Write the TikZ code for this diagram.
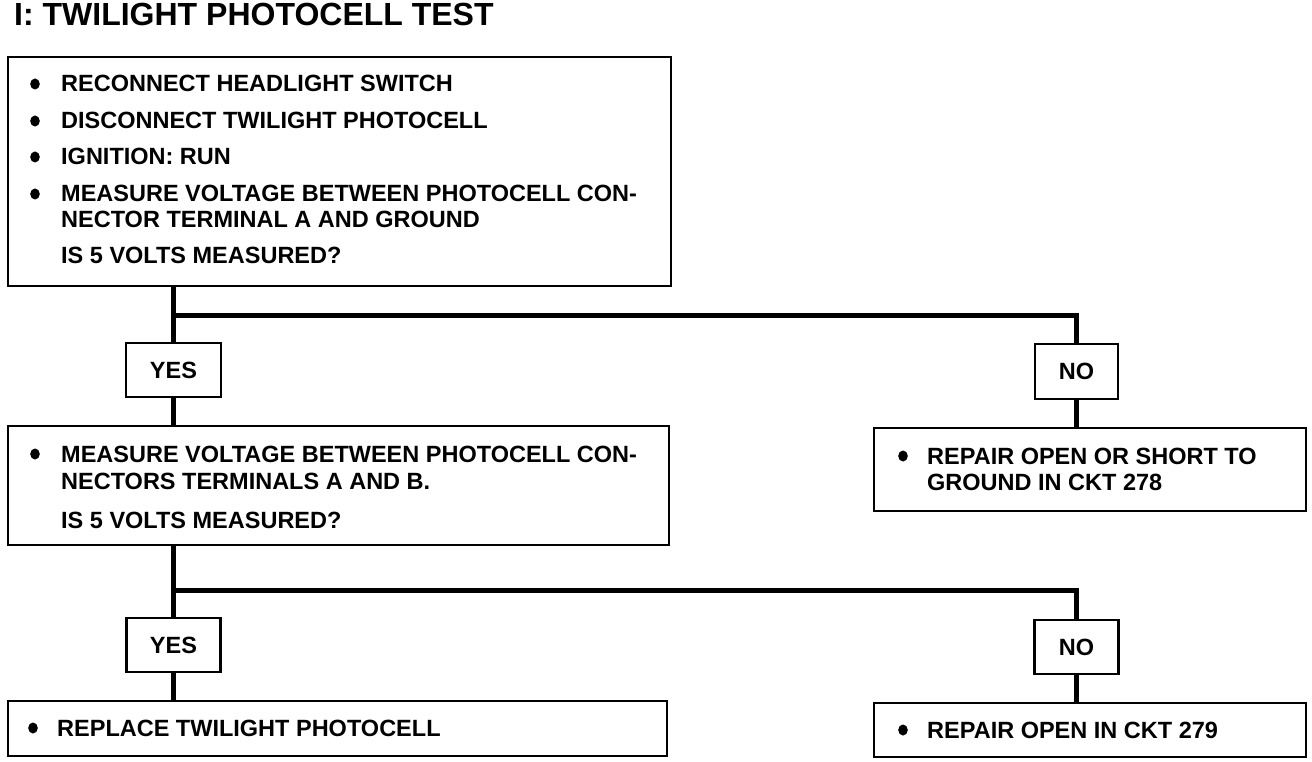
\documentclass[tikz,border=0pt]{standalone}
\usepackage{fontspec}
\setmainfont{Liberation Sans}
\begin{document}
\begin{tikzpicture}[x=1pt,y=-1pt,
  box/.style={draw, line width=2.8pt, inner sep=0pt, outer sep=0pt, rectangle},
  lbl/.style={box, font=\fontsize{23.5}{28}\selectfont\bfseries},
  conn/.style={line width=5pt},
  txt/.style={anchor=base west, inner sep=0pt, font=\fontsize{23.5}{28}\selectfont\bfseries},
  bul/.style={fill=black}]
\useasboundingbox (0,0) rectangle (1312,762);
% title
\node[anchor=base west, inner sep=0pt, font=\fontsize{32}{36}\selectfont\bfseries] (title) at (14,26) {I: TWILIGHT PHOTOCELL TEST};
% boxes
\node[box, minimum width=663pt, minimum height=229pt] (b1) at (339.5,171.5) {};
\node[lbl, minimum width=95pt, minimum height=54pt] (yes1) at (173.5,370) {YES};
\node[lbl, minimum width=83pt, minimum height=55pt] (no1) at (1076.5,371.5) {NO};
\node[box, minimum width=432pt, minimum height=83pt] (r1) at (1090,469.5) {};
\node[box, minimum width=661pt, minimum height=119pt] (b2) at (338.5,485.5) {};
\node[lbl, minimum width=94pt, minimum height=54pt] (yes2) at (173.5,645) {YES};
\node[lbl, minimum width=84pt, minimum height=54pt] (no2) at (1076.5,647) {NO};
\node[box, minimum width=659pt, minimum height=55pt] (b3) at (337.5,728.5) {};
\node[box, minimum width=432pt, minimum height=54pt] (r2) at (1090,730) {};
% junctions
\coordinate (j1) at (174,315);
\coordinate (j2) at (174,590);
% connectors
\draw[conn] (yes1.north |- b1.south) -- (yes1.north);
\draw[conn] (yes1.north |- j1) -| (no1.north);
\draw[conn] (yes1.south) -- (yes1.south |- b2.north);
\draw[conn] (no1.south) -- (no1.south |- r1.north);
\draw[conn] (yes2.north |- b2.south) -- (yes2.north);
\draw[conn] (yes2.north |- j2) -| (no2.north);
\draw[conn] (yes2.south) -- (yes2.south |- b3.north);
\draw[conn] (no2.south) -- (no2.south |- r2.north);
% box 1 text
\fill[bul] (35,84) ellipse (4.8pt and 5.5pt);
\fill[bul] (35,121) ellipse (4.8pt and 5.5pt);
\fill[bul] (35,157) ellipse (4.8pt and 5.5pt);
\fill[bul] (35,194) ellipse (4.8pt and 5.5pt);
\node[txt] (t11) at (61,92) {RECONNECT HEADLIGHT SWITCH};
\node[txt] (t12) at (61,129) {DISCONNECT TWILIGHT PHOTOCELL};
\node[txt] (t13) at (61,165) {IGNITION: RUN};
\node[txt] (t14) at (61,202) {MEASURE VOLTAGE BETWEEN PHOTOCELL CON-};
\node[txt] (t15) at (61,228) {NECTOR TERMINAL A AND GROUND};
\node[txt] (t16) at (61,264) {IS 5 VOLTS MEASURED?};
% box 2 text
\fill[bul] (35,454) ellipse (4.8pt and 5.5pt);
\node[txt] (t21) at (61,462) {MEASURE VOLTAGE BETWEEN PHOTOCELL CON-};
\node[txt] (t22) at (61,489) {NECTORS TERMINALS A AND B.};
\node[txt] (t23) at (61,528) {IS 5 VOLTS MEASURED?};
% repair 1
\fill[bul] (903,456) ellipse (4.8pt and 5.5pt);
\node[txt] (t31) at (927,464) {REPAIR OPEN OR SHORT TO};
\node[txt] (t32) at (927,490) {GROUND IN CKT 278};
% box 3
\fill[bul] (33,728) ellipse (4.8pt and 5.5pt);
\node[txt] (t41) at (57,736) {REPLACE TWILIGHT PHOTOCELL};
% repair 2
\fill[bul] (903,730) ellipse (4.8pt and 5.5pt);
\node[txt] (t51) at (927,738) {REPAIR OPEN IN CKT 279};
\end{tikzpicture}
\end{document}
